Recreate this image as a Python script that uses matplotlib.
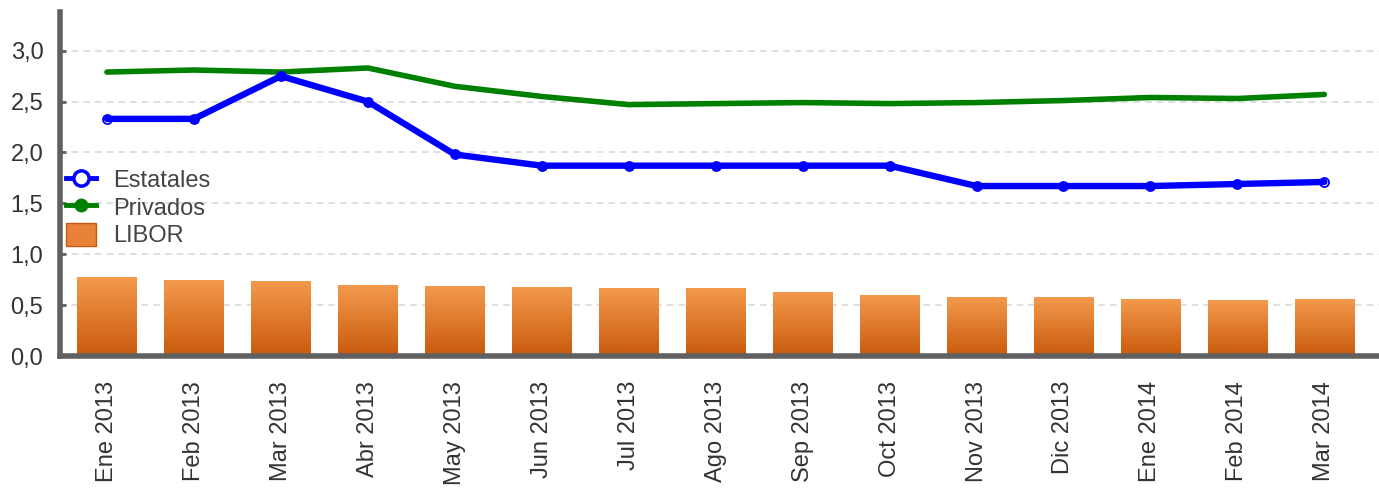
import numpy as np
import matplotlib
matplotlib.use("Agg")
import matplotlib.pyplot as plt
from matplotlib.lines import Line2D
from matplotlib.patches import Patch
from matplotlib.colors import LinearSegmentedColormap

plt.rcParams['font.family'] = ['Liberation Sans', 'DejaVu Sans']

months = ["Ene 2013", "Feb 2013", "Mar 2013", "Abr 2013", "May 2013", "Jun 2013",
          "Jul 2013", "Ago 2013", "Sep 2013", "Oct 2013", "Nov 2013", "Dic 2013",
          "Ene 2014", "Feb 2014", "Mar 2014"]
libor = [0.78, 0.75, 0.74, 0.70, 0.69, 0.68, 0.67, 0.67, 0.63, 0.60, 0.58, 0.58, 0.56, 0.55, 0.56]
estatales = [2.33, 2.33, 2.75, 2.50, 1.98, 1.87, 1.87, 1.87, 1.87, 1.87, 1.67, 1.67, 1.67, 1.69, 1.71]
privados = [2.79, 2.81, 2.79, 2.83, 2.65, 2.55, 2.47, 2.48, 2.49, 2.48, 2.49, 2.51, 2.54, 2.53, 2.57]
yticks = [0.0, 0.5, 1.0, 1.5, 2.0, 2.5, 3.0]
ytick_labels = ["0,0", "0,5", "1,0", "1,5", "2,0", "2,5", "3,0"]

fig = plt.figure(figsize=(13.79, 4.95), dpi=100)
ax = fig.add_axes([60/1379, 139/495, 1320/1379, 344/495])

x = np.arange(len(months))
bars = ax.bar(x, libor, width=0.68, color='#E47A2E', zorder=2)

cmap = LinearSegmentedColormap.from_list('og', ['#C95A0C', '#F49A4D'])
grad = np.linspace(0, 1, 256).reshape(-1, 1)
for b in bars:
    bx, by = b.get_x(), b.get_y()
    w, h = b.get_width(), b.get_height()
    im = ax.imshow(grad, extent=[bx, bx + w, by, by + h], origin='lower',
                   cmap=cmap, aspect='auto', zorder=2.5)
    im.set_clip_path(b)

ax.plot(x, privados, color='#008000', lw=4.0, solid_capstyle='round', zorder=4)
ax.plot(x, estatales, 'o', ms=6.5, mfc='white', mec='#0000FF', mew=1.3, zorder=5)
ax.plot(x, estatales, color='#0000FF', lw=4.6, solid_capstyle='round', zorder=6)
ax.plot(x[1:-1], estatales[1:-1], 'o', ms=5.5, color='#0000FF', zorder=7)

ax.set_xlim(-0.54, 14.64)
ax.set_ylim(0, 3.38)
ax.set_yticks(yticks)
ax.set_yticklabels(ytick_labels)
ax.set_xticks(x)
ax.set_xticklabels(months, rotation=90)
ax.tick_params(axis='x', length=0, pad=18, labelsize=17, labelcolor='#333333')
ax.tick_params(axis='y', length=4, width=2, color='#606060', direction='in', pad=12,
               labelsize=17, labelcolor='#333333')
ax.yaxis.grid(True, color='#d9d9d9', linestyle=(0, (4, 3)), lw=1.2, zorder=0)
ax.set_axisbelow(True)
for s in ['top', 'right']:
    ax.spines[s].set_visible(False)
for s in ['left', 'bottom']:
    ax.spines[s].set_color('#606060')
    ax.spines[s].set_linewidth(4)

handles = [
    Line2D([], [], color='#0000FF', lw=3.5, marker='o', ms=11, mfc='white', mec='#0000FF', mew=2.5),
    Line2D([], [], color='#008000', lw=3.5, marker='o', ms=9, mfc='#008000', mec='#008000'),
    Patch(facecolor='#E8823A', edgecolor='#C95A0C'),
]
leg = ax.legend(handles, ['Estatales', 'Privados', 'LIBOR'], loc='upper left',
                bbox_to_anchor=(66/1379, 1 - 168/495), bbox_transform=fig.transFigure,
                frameon=False, fontsize=17, labelcolor='#444444',
                handlelength=1.25, handleheight=1.1, handletextpad=0.75,
                labelspacing=0.13, borderpad=0, borderaxespad=0)

fig.savefig('out.png', dpi=100)
